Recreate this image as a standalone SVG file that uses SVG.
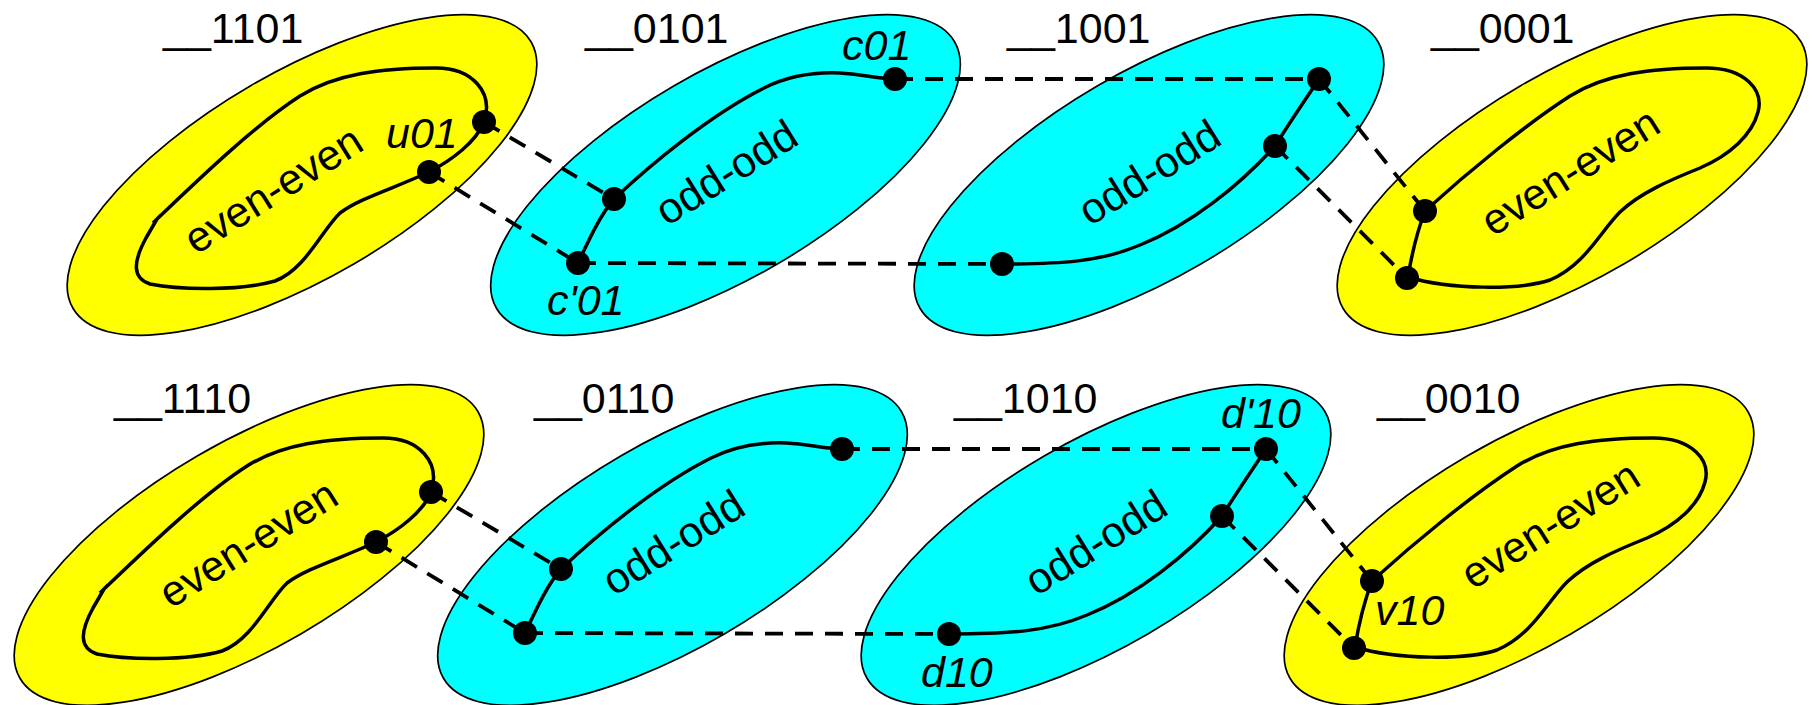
<svg xmlns="http://www.w3.org/2000/svg" xmlns:xlink="http://www.w3.org/1999/xlink" width="1813" height="705" viewBox="0 0 1813 705">
<style>
.blob{stroke:#000;stroke-width:1.7}
.ye{fill:#ffff00}
.cy{fill:#00ffff}
.curve{fill:none;stroke:#000;stroke-width:3.5;stroke-linejoin:round}
.dot{fill:#000}
.dash{fill:none;stroke:#000;stroke-width:3.8;stroke-dasharray:18 12}
.lbl{font-family:"Liberation Sans",Arial,Helvetica,sans-serif;font-size:43px;fill:#000}
.it{font-style:italic}
.mid{text-anchor:middle}
</style>
<defs>
<ellipse id="shape" cx="0" cy="0" rx="265" ry="103" transform="rotate(-30.2)"/>
<path id="loopA" d="M157,219 C200,178 255,125 300,96 C335,74 380,68 436,68 C472,68 494,92 484,122 C476,142 452,160 429,172 C395,188 360,198 340,213 C322,230 305,270 275,281 C240,291 180,290 150,284 C132,278 133,262 146,238 Z M153,223 L161,215"/>
<path id="loopB" d="M1425,211 C1468,172 1525,125 1570,96 C1605,74 1650,68 1706,68 C1745,68 1764,90 1758,112 C1752,135 1730,155 1700,168 C1670,180 1640,193 1620,212 C1600,232 1585,265 1550,280 C1520,290 1450,290 1408,277 Q1414,240 1425,211 Z"/>
<path id="pathB2" d="M578,263 C588,242 600,215 614,199 C650,165 710,115 764,88 C790,75 815,72 840,73 C860,74 880,79 895,79"/>
<path id="pathB3" d="M1319,79 C1305,100 1288,125 1275,146 C1240,185 1190,225 1140,245 C1100,262 1060,264 1002,264"/>
</defs>

<g id="n1101">
<use xlink:href="#shape" x="302" y="175" class="blob ye"/>
<use xlink:href="#loopA" class="curve"/>
<circle class="dot" cx="484" cy="122" r="12"/>
<circle class="dot" cx="429" cy="172" r="12"/>
<text class="lbl" x="163" y="43">__1101</text>
<text class="lbl mid" transform="translate(281,202) rotate(-32)">even-even</text>
<text class="lbl it" x="386" y="148">u01</text>
</g>

<g id="n0101">
<use xlink:href="#shape" x="725.5" y="175" class="blob cy"/>
<use xlink:href="#pathB2" class="curve"/>
<circle class="dot" cx="614" cy="199" r="12"/>
<circle class="dot" cx="578" cy="263" r="12"/>
<circle class="dot" cx="895" cy="79" r="12"/>
<text class="lbl" x="585" y="43">__0101</text>
<text class="lbl mid" transform="translate(734,185) rotate(-32)">odd-odd</text>
<text class="lbl it" x="842" y="60">c01</text>
<text class="lbl it" x="547" y="315">c'01</text>
</g>

<g id="n1001">
<use xlink:href="#shape" x="1149" y="175" class="blob cy"/>
<use xlink:href="#pathB3" class="curve"/>
<circle class="dot" cx="1319" cy="79" r="12"/>
<circle class="dot" cx="1275" cy="146" r="12"/>
<circle class="dot" cx="1002" cy="264" r="12"/>
<text class="lbl" x="1007" y="43">__1001</text>
<text class="lbl mid" transform="translate(1157,185) rotate(-32)">odd-odd</text>
</g>

<g id="n0001">
<use xlink:href="#shape" x="1572" y="175" class="blob ye"/>
<use xlink:href="#loopB" class="curve"/>
<circle class="dot" cx="1425" cy="211" r="12"/>
<circle class="dot" cx="1407" cy="278" r="12"/>
<text class="lbl" x="1431" y="43">__0001</text>
<text class="lbl mid" transform="translate(1578,184) rotate(-32)">even-even</text>
</g>

<g id="n1110">
<use xlink:href="#shape" x="249" y="545" class="blob ye"/>
<use xlink:href="#loopA" class="curve" transform="translate(-53,370)"/>
<circle class="dot" cx="431" cy="492" r="12"/>
<circle class="dot" cx="376" cy="542" r="12"/>
<text class="lbl" x="114" y="413">__1110</text>
<text class="lbl mid" transform="translate(256,556) rotate(-32)">even-even</text>
</g>

<g id="n0110">
<use xlink:href="#shape" x="672.5" y="545" class="blob cy"/>
<use xlink:href="#pathB2" class="curve" transform="translate(-53,370)"/>
<circle class="dot" cx="561" cy="569" r="12"/>
<circle class="dot" cx="525" cy="633" r="12"/>
<circle class="dot" cx="842" cy="449" r="12"/>
<text class="lbl" x="534" y="413">__0110</text>
<text class="lbl mid" transform="translate(681,555) rotate(-32)">odd-odd</text>
</g>

<g id="n1010">
<use xlink:href="#shape" x="1096" y="545" class="blob cy"/>
<use xlink:href="#pathB3" class="curve" transform="translate(-53,370)"/>
<circle class="dot" cx="1266" cy="449" r="12"/>
<circle class="dot" cx="1222" cy="516" r="12"/>
<circle class="dot" cx="949" cy="634" r="12"/>
<text class="lbl" x="954" y="413">__1010</text>
<text class="lbl mid" transform="translate(1103.5,555) rotate(-32)">odd-odd</text>
<text class="lbl it" x="1221" y="428">d'10</text>
<text class="lbl it" x="921" y="687">d10</text>
</g>

<g id="n0010">
<use xlink:href="#shape" x="1519" y="545" class="blob ye"/>
<use xlink:href="#loopB" class="curve" transform="translate(-53,370)"/>
<circle class="dot" cx="1372" cy="581" r="12"/>
<circle class="dot" cx="1354" cy="648" r="12"/>
<text class="lbl" x="1377" y="413">__0010</text>
<text class="lbl mid" transform="translate(1558,537) rotate(-32)">even-even</text>
<text class="lbl it" x="1375" y="625">v10</text>
</g>

<g id="connectors">
<line class="dash" x1="484" y1="122" x2="614" y2="199"/>
<line class="dash" x1="429" y1="172" x2="578" y2="263"/>
<line class="dash" x1="895" y1="79" x2="1319" y2="79"/>
<line class="dash" x1="578" y1="263" x2="1002" y2="264"/>
<line class="dash" x1="1319" y1="79" x2="1425" y2="211"/>
<line class="dash" x1="1275" y1="146" x2="1407" y2="278"/>
<line class="dash" x1="431" y1="492" x2="561" y2="569"/>
<line class="dash" x1="376" y1="542" x2="525" y2="633"/>
<line class="dash" x1="842" y1="449" x2="1266" y2="449"/>
<line class="dash" x1="525" y1="633" x2="949" y2="634"/>
<line class="dash" x1="1266" y1="449" x2="1372" y2="581"/>
<line class="dash" x1="1222" y1="516" x2="1354" y2="648"/>
</g>
</svg>
